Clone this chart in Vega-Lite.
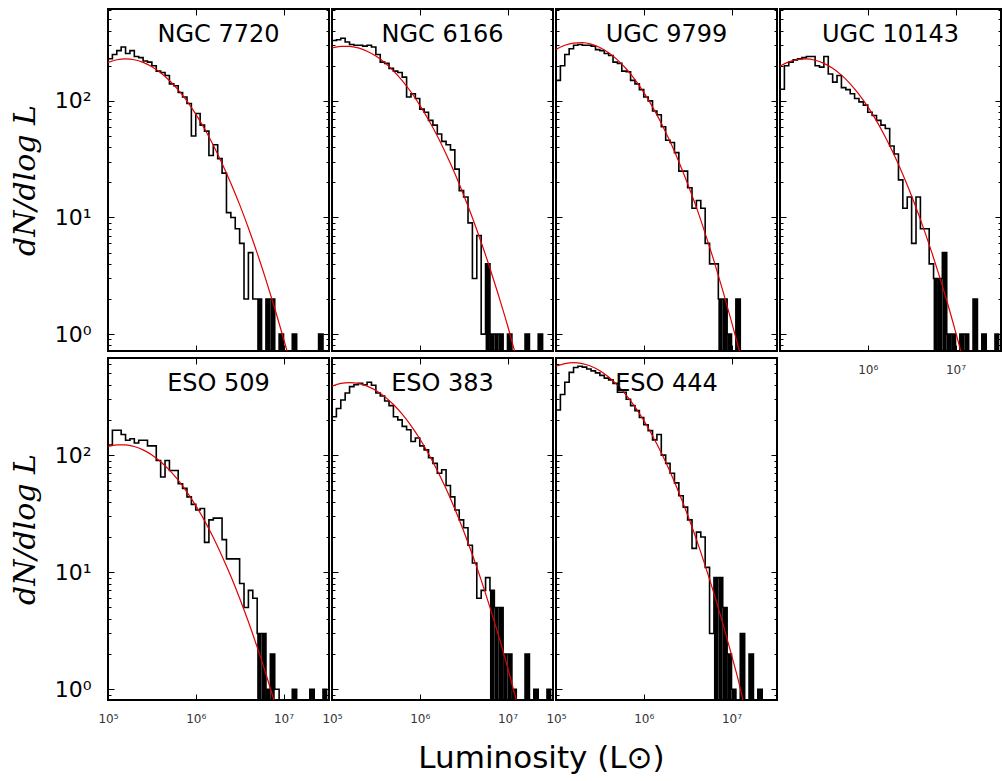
{
"$schema":"https://vega.github.io/schema/vega-lite/v6.json",
"background":"white",
"padding":{"left":9,"top":7,"right":0,"bottom":0},
"bounds":"flush",
"columns":4,
"spacing":{"row":7,"column":3},
"config":{"view":{"stroke":"black","strokeWidth":2},"axis":{"tickColor":"black","tickWidth":1,"domain":false,"grid":false},"font":"DejaVu Sans"},
"concat":[
{"width":221,"height":342,
"title":{"text":"NGC 7720","offset":-57,"baseline":"alphabetic","fontSize":24,"fontWeight":"normal","font":"DejaVu Sans","anchor":"middle","color":"black"},
"layer":[
{"data":{"values":[{"L":100000,"n":230},{"L":112202,"n":250},{"L":125893,"n":270},{"L":141254,"n":290},{"L":158489,"n":255},{"L":177828,"n":270},{"L":199526,"n":240},{"L":223872,"n":235},{"L":251189,"n":220},{"L":281838,"n":215},{"L":316228,"n":200},{"L":354813,"n":180},{"L":398107,"n":175},{"L":446684,"n":165},{"L":501187,"n":140},{"L":562341,"n":135},{"L":630957,"n":118},{"L":707946,"n":108},{"L":794328,"n":95},{"L":891251,"n":50},{"L":1000000,"n":78},{"L":1122018,"n":62},{"L":1258925,"n":55},{"L":1412538,"n":34},{"L":1584893,"n":42},{"L":1778279,"n":32},{"L":1995262,"n":24},{"L":2238721,"n":11},{"L":2511886,"n":10},{"L":2818383,"n":8},{"L":3162278,"n":6},{"L":3548134,"n":2},{"L":3981072,"n":5},{"L":4466836,"n":2},{"L":5011872,"n":2},{"L":5623413,"n":0},{"L":6309573,"n":2},{"L":7079458,"n":2},{"L":7943282,"n":0},{"L":8912509,"n":1},{"L":10000000,"n":0},{"L":11220185,"n":0},{"L":12589254,"n":1},{"L":14125375,"n":0},{"L":15848932,"n":0},{"L":17782794,"n":0},{"L":19952623,"n":0},{"L":22387211,"n":0},{"L":25118864,"n":1},{"L":28183829,"n":0},{"L":31622777,"n":0}]},
"mark":{"type":"line","interpolate":"step-after","color":"black","strokeWidth":1.6,"clip":true,"invalid":"show"},
"encoding":{"x":{"field":"L","type":"quantitative","scale":{"type":"log","domain":[100000,33000000],"nice":false},"axis":{"orient":"bottom","values":[100000,1000000,10000000],"tickSize":-6,"labels":false,"title":null}},
"y":{"field":"n","type":"quantitative","scale":{"type":"log","domain":[0.716,614],"nice":false,"clamp":true},"axis":{"orient":"left","values":[0.8,0.9,1,2,3,4,5,6,7,8,9,10,20,30,40,50,60,70,80,90,100,200,300,400,500,600],"tickSize":{"condition":{"test":"datum.value==1||datum.value==10||datum.value==100","value":-6},"value":-3},"labels":true,"labelExpr":"datum.value==1?'10⁰':datum.value==10?'10¹':datum.value==100?'10²':''","labelFontSize":{"condition":{"test":"datum.value==1||datum.value==10||datum.value==100","value":22},"value":1},"labelPadding":23,"labelOverlap":false,"labelFlush":false,"labelColor":"black","title":"dN/dlog L","titleFont":"DejaVu Serif","titleFontStyle":"italic","titleFontWeight":"normal","titleFontSize":30,"titlePadding":14,"titleColor":"black"}}}},
{"data":{"values":[{"L":5011872,"L2":5623413,"n":2},{"L":6309573,"L2":7079458,"n":2},{"L":7079458,"L2":7943282,"n":2},{"L":8912509,"L2":10000000,"n":1},{"L":12589254,"L2":14125375,"n":1},{"L":25118864,"L2":28183829,"n":1}]},
"mark":{"type":"rect","color":"black","clip":true},
"encoding":{"x":{"field":"L","type":"quantitative","axis":null},"x2":{"field":"L2"},"y":{"field":"n","type":"quantitative","axis":null},"y2":{"datum":0.5}}},
{"data":{"values":[{"L":100000,"n":213.8},{"L":125893,"n":225.3},{"L":158489,"n":229.1},{"L":199526,"n":225.3},{"L":251189,"n":214},{"L":316228,"n":196.6},{"L":398107,"n":174.4},{"L":501187,"n":149.6},{"L":630957,"n":124.1},{"L":794328,"n":99.4},{"L":1000000,"n":77},{"L":1258925,"n":57.6},{"L":1584893,"n":41.7},{"L":1995262,"n":29.1},{"L":2511886,"n":19.7},{"L":3162278,"n":12.9},{"L":3981072,"n":8.12},{"L":5011872,"n":4.95},{"L":6309573,"n":2.92},{"L":7943282,"n":1.665},{"L":10000000,"n":0.917},{"L":10964782,"n":0.716}]},
"mark":{"type":"line","color":"#e00000","strokeWidth":1.2,"interpolate":"monotone","clip":true},
"encoding":{"x":{"field":"L","type":"quantitative","axis":{"orient":"top","values":[100000,1000000,10000000],"tickSize":-6,"labels":false,"title":null}},
"y":{"field":"n","type":"quantitative","axis":{"orient":"right","values":[0.8,0.9,1,2,3,4,5,6,7,8,9,10,20,30,40,50,60,70,80,90,100,200,300,400,500,600],"tickSize":{"condition":{"test":"datum.value==1||datum.value==10||datum.value==100","value":-6},"value":-3},"labels":false,"title":null}}}}
],
"resolve":{"axis":{"x":"independent","y":"independent"}}},

{"width":221,"height":342,
"title":{"text":"NGC 6166","offset":-57,"baseline":"alphabetic","fontSize":24,"fontWeight":"normal","font":"DejaVu Sans","anchor":"middle","color":"black"},
"layer":[
{"data":{"values":[{"L":100000,"n":330},{"L":112202,"n":335},{"L":125893,"n":345},{"L":141254,"n":320},{"L":158489,"n":305},{"L":177828,"n":300},{"L":199526,"n":300},{"L":223872,"n":295},{"L":251189,"n":300},{"L":281838,"n":290},{"L":316228,"n":250},{"L":354813,"n":215},{"L":398107,"n":210},{"L":446684,"n":190},{"L":501187,"n":180},{"L":562341,"n":175},{"L":630957,"n":160},{"L":707946,"n":108},{"L":794328,"n":115},{"L":891251,"n":105},{"L":1000000,"n":85},{"L":1122018,"n":80},{"L":1258925,"n":68},{"L":1412538,"n":62},{"L":1584893,"n":52},{"L":1778279,"n":45},{"L":1995262,"n":42},{"L":2238721,"n":38},{"L":2511886,"n":26},{"L":2818383,"n":17},{"L":3162278,"n":15},{"L":3548134,"n":9},{"L":3981072,"n":3},{"L":4466836,"n":7},{"L":5011872,"n":1},{"L":5623413,"n":4},{"L":6309573,"n":1},{"L":7079458,"n":1},{"L":7943282,"n":1},{"L":8912509,"n":0},{"L":10000000,"n":1},{"L":11220185,"n":0},{"L":12589254,"n":0},{"L":14125375,"n":0},{"L":15848932,"n":1},{"L":17782794,"n":0},{"L":19952623,"n":0},{"L":22387211,"n":1},{"L":25118864,"n":0},{"L":28183829,"n":0},{"L":31622777,"n":0}]},
"mark":{"type":"line","interpolate":"step-after","color":"black","strokeWidth":1.6,"clip":true,"invalid":"show"},
"encoding":{"x":{"field":"L","type":"quantitative","scale":{"type":"log","domain":[100000,33000000],"nice":false},"axis":{"orient":"bottom","values":[100000,1000000,10000000],"tickSize":-6,"labels":false,"title":null}},
"y":{"field":"n","type":"quantitative","scale":{"type":"log","domain":[0.716,614],"nice":false,"clamp":true},"axis":{"orient":"left","values":[0.8,0.9,1,2,3,4,5,6,7,8,9,10,20,30,40,50,60,70,80,90,100,200,300,400,500,600],"tickSize":{"condition":{"test":"datum.value==1||datum.value==10||datum.value==100","value":-6},"value":-3},"labels":false,"title":null}}}},
{"data":{"values":[{"L":5623413,"L2":6309573,"n":4},{"L":6309573,"L2":7079458,"n":1},{"L":7079458,"L2":7943282,"n":1},{"L":7943282,"L2":8912509,"n":1},{"L":10000000,"L2":11220185,"n":1},{"L":15848932,"L2":17782794,"n":1},{"L":22387211,"L2":25118864,"n":1}]},
"mark":{"type":"rect","color":"black","clip":true},
"encoding":{"x":{"field":"L","type":"quantitative","axis":null},"x2":{"field":"L2"},"y":{"field":"n","type":"quantitative","axis":null},"y2":{"datum":0.5}}},
{"data":{"values":[{"L":100000,"n":284.6},{"L":125893,"n":293.9},{"L":158489,"n":293.9},{"L":199526,"n":284.6},{"L":251189,"n":266.9},{"L":316228,"n":242.2},{"L":398107,"n":212.9},{"L":501187,"n":181.2},{"L":630957,"n":149.3},{"L":794328,"n":119.2},{"L":1000000,"n":92.1},{"L":1258925,"n":68.9},{"L":1584893,"n":49.9},{"L":1995262,"n":35},{"L":2511886,"n":23.8},{"L":3162278,"n":15.6},{"L":3981072,"n":9.96},{"L":5011872,"n":6.14},{"L":6309573,"n":3.67},{"L":7943282,"n":2.12},{"L":10000000,"n":1.19},{"L":12022644,"n":0.716}]},
"mark":{"type":"line","color":"#e00000","strokeWidth":1.2,"interpolate":"monotone","clip":true},
"encoding":{"x":{"field":"L","type":"quantitative","axis":{"orient":"top","values":[100000,1000000,10000000],"tickSize":-6,"labels":false,"title":null}},
"y":{"field":"n","type":"quantitative","axis":{"orient":"right","values":[0.8,0.9,1,2,3,4,5,6,7,8,9,10,20,30,40,50,60,70,80,90,100,200,300,400,500,600],"tickSize":{"condition":{"test":"datum.value==1||datum.value==10||datum.value==100","value":-6},"value":-3},"labels":false,"title":null}}}}
],
"resolve":{"axis":{"x":"independent","y":"independent"}}},

{"width":221,"height":342,
"title":{"text":"UGC 9799","offset":-57,"baseline":"alphabetic","fontSize":24,"fontWeight":"normal","font":"DejaVu Sans","anchor":"middle","color":"black"},
"layer":[
{"data":{"values":[{"L":100000,"n":150},{"L":112202,"n":200},{"L":125893,"n":250},{"L":141254,"n":280},{"L":158489,"n":300},{"L":177828,"n":305},{"L":199526,"n":300},{"L":223872,"n":300},{"L":251189,"n":295},{"L":281838,"n":275},{"L":316228,"n":270},{"L":354813,"n":255},{"L":398107,"n":245},{"L":446684,"n":215},{"L":501187,"n":210},{"L":562341,"n":180},{"L":630957,"n":178},{"L":707946,"n":150},{"L":794328,"n":140},{"L":891251,"n":125},{"L":1000000,"n":108},{"L":1122018,"n":100},{"L":1258925,"n":82},{"L":1412538,"n":76},{"L":1584893,"n":60},{"L":1778279,"n":46},{"L":1995262,"n":44},{"L":2238721,"n":36},{"L":2511886,"n":25},{"L":2818383,"n":25},{"L":3162278,"n":18},{"L":3548134,"n":12},{"L":3981072,"n":14},{"L":4466836,"n":12},{"L":5011872,"n":6},{"L":5623413,"n":4},{"L":6309573,"n":4},{"L":7079458,"n":2},{"L":7943282,"n":2},{"L":8912509,"n":1},{"L":10000000,"n":0},{"L":11220185,"n":2},{"L":12589254,"n":0},{"L":14125375,"n":0},{"L":15848932,"n":0},{"L":17782794,"n":0},{"L":19952623,"n":0},{"L":22387211,"n":0},{"L":25118864,"n":0},{"L":28183829,"n":0},{"L":31622777,"n":0}]},
"mark":{"type":"line","interpolate":"step-after","color":"black","strokeWidth":1.6,"clip":true,"invalid":"show"},
"encoding":{"x":{"field":"L","type":"quantitative","scale":{"type":"log","domain":[100000,33000000],"nice":false},"axis":{"orient":"bottom","values":[100000,1000000,10000000],"tickSize":-6,"labels":false,"title":null}},
"y":{"field":"n","type":"quantitative","scale":{"type":"log","domain":[0.716,614],"nice":false,"clamp":true},"axis":{"orient":"left","values":[0.8,0.9,1,2,3,4,5,6,7,8,9,10,20,30,40,50,60,70,80,90,100,200,300,400,500,600],"tickSize":{"condition":{"test":"datum.value==1||datum.value==10||datum.value==100","value":-6},"value":-3},"labels":false,"title":null}}}},
{"data":{"values":[{"L":7079458,"L2":7943282,"n":2},{"L":7943282,"L2":8912509,"n":2},{"L":8912509,"L2":10000000,"n":1},{"L":11220185,"L2":12589254,"n":2}]},
"mark":{"type":"rect","color":"black","clip":true},
"encoding":{"x":{"field":"L","type":"quantitative","axis":null},"x2":{"field":"L2"},"y":{"field":"n","type":"quantitative","axis":null},"y2":{"datum":0.5}}},
{"data":{"values":[{"L":100000,"n":276.6},{"L":125893,"n":299.9},{"L":158489,"n":313.3},{"L":199526,"n":315.7},{"L":251189,"n":306.6},{"L":316228,"n":286.9},{"L":398107,"n":258.8},{"L":501187,"n":224.9},{"L":630957,"n":188.6},{"L":794328,"n":152.2},{"L":1000000,"n":118.5},{"L":1258925,"n":88.9},{"L":1584893,"n":64.3},{"L":1995262,"n":44.8},{"L":2511886,"n":30.1},{"L":3162278,"n":19.5},{"L":3981072,"n":12.2},{"L":5011872,"n":7.31},{"L":6309573,"n":4.24},{"L":7943282,"n":2.37},{"L":10000000,"n":1.28},{"L":12302688,"n":0.716}]},
"mark":{"type":"line","color":"#e00000","strokeWidth":1.2,"interpolate":"monotone","clip":true},
"encoding":{"x":{"field":"L","type":"quantitative","axis":{"orient":"top","values":[100000,1000000,10000000],"tickSize":-6,"labels":false,"title":null}},
"y":{"field":"n","type":"quantitative","axis":{"orient":"right","values":[0.8,0.9,1,2,3,4,5,6,7,8,9,10,20,30,40,50,60,70,80,90,100,200,300,400,500,600],"tickSize":{"condition":{"test":"datum.value==1||datum.value==10||datum.value==100","value":-6},"value":-3},"labels":false,"title":null}}}}
],
"resolve":{"axis":{"x":"independent","y":"independent"}}},

{"width":221,"height":342,
"title":{"text":"UGC 10143","offset":-57,"baseline":"alphabetic","fontSize":24,"fontWeight":"normal","font":"DejaVu Sans","anchor":"middle","color":"black"},
"layer":[
{"data":{"values":[{"L":100000,"n":126},{"L":112202,"n":200},{"L":125893,"n":215},{"L":141254,"n":225},{"L":158489,"n":230},{"L":177828,"n":235},{"L":199526,"n":240},{"L":223872,"n":240},{"L":251189,"n":200},{"L":281838,"n":195},{"L":316228,"n":240},{"L":354813,"n":170},{"L":398107,"n":145},{"L":446684,"n":165},{"L":501187,"n":130},{"L":562341,"n":125},{"L":630957,"n":115},{"L":707946,"n":105},{"L":794328,"n":98},{"L":891251,"n":92},{"L":1000000,"n":80},{"L":1122018,"n":75},{"L":1258925,"n":68},{"L":1412538,"n":62},{"L":1584893,"n":58},{"L":1778279,"n":41},{"L":1995262,"n":35},{"L":2238721,"n":21},{"L":2511886,"n":12},{"L":2818383,"n":15},{"L":3162278,"n":6},{"L":3548134,"n":15},{"L":3981072,"n":8},{"L":4466836,"n":8},{"L":5011872,"n":4},{"L":5623413,"n":3},{"L":6309573,"n":3},{"L":7079458,"n":5},{"L":7943282,"n":1},{"L":8912509,"n":1},{"L":10000000,"n":0},{"L":11220185,"n":1},{"L":12589254,"n":1},{"L":14125375,"n":0},{"L":15848932,"n":2},{"L":17782794,"n":0},{"L":19952623,"n":1},{"L":22387211,"n":0},{"L":25118864,"n":0},{"L":28183829,"n":1},{"L":31622777,"n":1}]},
"mark":{"type":"line","interpolate":"step-after","color":"black","strokeWidth":1.6,"clip":true,"invalid":"show"},
"encoding":{"x":{"field":"L","type":"quantitative","scale":{"type":"log","domain":[100000,33000000],"nice":false},"axis":{"orient":"bottom","values":[100000,1000000,10000000],"tickSize":-6,"labels":true,"labelExpr":"datum.value==100000?'':datum.value==1000000?'10⁶':'10⁷'","labelFontSize":12,"labelColor":"#333","labelPadding":19,"labelOverlap":false,"labelFlush":false,"title":null}},
"y":{"field":"n","type":"quantitative","scale":{"type":"log","domain":[0.716,614],"nice":false,"clamp":true},"axis":{"orient":"left","values":[0.8,0.9,1,2,3,4,5,6,7,8,9,10,20,30,40,50,60,70,80,90,100,200,300,400,500,600],"tickSize":{"condition":{"test":"datum.value==1||datum.value==10||datum.value==100","value":-6},"value":-3},"labels":false,"title":null}}}},
{"data":{"values":[{"L":5623413,"L2":6309573,"n":3},{"L":6309573,"L2":7079458,"n":3},{"L":7079458,"L2":7943282,"n":5},{"L":7943282,"L2":8912509,"n":1},{"L":8912509,"L2":10000000,"n":1},{"L":11220185,"L2":12589254,"n":1},{"L":12589254,"L2":14125375,"n":1},{"L":15848932,"L2":17782794,"n":2},{"L":19952623,"L2":22387211,"n":1},{"L":28183829,"L2":31622777,"n":1}]},
"mark":{"type":"rect","color":"black","clip":true},
"encoding":{"x":{"field":"L","type":"quantitative","axis":null},"x2":{"field":"L2"},"y":{"field":"n","type":"quantitative","axis":null},"y2":{"datum":0.5}}},
{"data":{"values":[{"L":100000,"n":198.7},{"L":125893,"n":216},{"L":158489,"n":226.4},{"L":199526,"n":228.9},{"L":251189,"n":223.1},{"L":316228,"n":209.8},{"L":398107,"n":190.2},{"L":501187,"n":166.2},{"L":630957,"n":140.1},{"L":794328,"n":113.8},{"L":1000000,"n":89.2},{"L":1258925,"n":67.4},{"L":1584893,"n":49.1},{"L":1995262,"n":34.5},{"L":2511886,"n":23.4},{"L":3162278,"n":15.3},{"L":3981072,"n":9.63},{"L":5011872,"n":5.85},{"L":6309573,"n":3.43},{"L":7943282,"n":1.94},{"L":10000000,"n":1.05},{"L":11481536,"n":0.716}]},
"mark":{"type":"line","color":"#e00000","strokeWidth":1.2,"interpolate":"monotone","clip":true},
"encoding":{"x":{"field":"L","type":"quantitative","axis":{"orient":"top","values":[100000,1000000,10000000],"tickSize":-6,"labels":false,"title":null}},
"y":{"field":"n","type":"quantitative","axis":{"orient":"right","values":[0.8,0.9,1,2,3,4,5,6,7,8,9,10,20,30,40,50,60,70,80,90,100,200,300,400,500,600],"tickSize":{"condition":{"test":"datum.value==1||datum.value==10||datum.value==100","value":-6},"value":-3},"labels":false,"title":null}}}}
],
"resolve":{"axis":{"x":"independent","y":"independent"}}},

{"width":221,"height":342,
"title":{"text":"ESO 509","offset":-57,"baseline":"alphabetic","fontSize":24,"fontWeight":"normal","font":"DejaVu Sans","anchor":"middle","color":"black"},
"layer":[
{"data":{"values":[{"L":100000,"n":122},{"L":112202,"n":163},{"L":125893,"n":163},{"L":141254,"n":150},{"L":158489,"n":134},{"L":177828,"n":138},{"L":199526,"n":127},{"L":223872,"n":134},{"L":251189,"n":134},{"L":281838,"n":120},{"L":316228,"n":120},{"L":354813,"n":90},{"L":398107,"n":65},{"L":446684,"n":90},{"L":501187,"n":74},{"L":562341,"n":74},{"L":630957,"n":57},{"L":707946,"n":52},{"L":794328,"n":44},{"L":891251,"n":38},{"L":1000000,"n":34},{"L":1122018,"n":35},{"L":1258925,"n":18},{"L":1412538,"n":28},{"L":1584893,"n":29},{"L":1778279,"n":29},{"L":1995262,"n":19},{"L":2238721,"n":13},{"L":2511886,"n":13},{"L":2818383,"n":13},{"L":3162278,"n":8},{"L":3548134,"n":5},{"L":3981072,"n":7},{"L":4466836,"n":6},{"L":5011872,"n":3},{"L":5623413,"n":3},{"L":6309573,"n":1},{"L":7079458,"n":2},{"L":7943282,"n":1},{"L":8912509,"n":0},{"L":10000000,"n":0},{"L":11220185,"n":0},{"L":12589254,"n":1},{"L":14125375,"n":0},{"L":15848932,"n":0},{"L":17782794,"n":0},{"L":19952623,"n":1},{"L":22387211,"n":0},{"L":25118864,"n":0},{"L":28183829,"n":1},{"L":31622777,"n":1}]},
"mark":{"type":"line","interpolate":"step-after","color":"black","strokeWidth":1.6,"clip":true,"invalid":"show"},
"encoding":{"x":{"field":"L","type":"quantitative","scale":{"type":"log","domain":[100000,33000000],"nice":false},"axis":{"orient":"bottom","values":[100000,1000000,10000000],"tickSize":-6,"labels":true,"labelExpr":"datum.value==100000?'10⁵':datum.value==1000000?'10⁶':'10⁷'","labelFontSize":12,"labelColor":"#333","labelPadding":19,"labelOverlap":false,"labelFlush":false,"title":null}},
"y":{"field":"n","type":"quantitative","scale":{"type":"log","domain":[0.81,676],"nice":false,"clamp":true},"axis":{"orient":"left","values":[0.9,1,2,3,4,5,6,7,8,9,10,20,30,40,50,60,70,80,90,100,200,300,400,500,600],"tickSize":{"condition":{"test":"datum.value==1||datum.value==10||datum.value==100","value":-6},"value":-3},"labels":true,"labelExpr":"datum.value==1?'10⁰':datum.value==10?'10¹':datum.value==100?'10²':''","labelFontSize":{"condition":{"test":"datum.value==1||datum.value==10||datum.value==100","value":22},"value":1},"labelPadding":23,"labelOverlap":false,"labelFlush":false,"labelColor":"black","title":"dN/dlog L","titleFont":"DejaVu Serif","titleFontStyle":"italic","titleFontWeight":"normal","titleFontSize":30,"titlePadding":14,"titleColor":"black"}}}},
{"data":{"values":[{"L":5011872,"L2":5623413,"n":3},{"L":5623413,"L2":6309573,"n":3},{"L":6309573,"L2":7079458,"n":1},{"L":7079458,"L2":7943282,"n":2},{"L":12589254,"L2":14125375,"n":1},{"L":19952623,"L2":22387211,"n":1},{"L":28183829,"L2":31622777,"n":1}]},
"mark":{"type":"rect","color":"black","clip":true},
"encoding":{"x":{"field":"L","type":"quantitative","axis":null},"x2":{"field":"L2"},"y":{"field":"n","type":"quantitative","axis":null},"y2":{"datum":0.5}}},
{"data":{"values":[{"L":100000,"n":118.5},{"L":125893,"n":122.5},{"L":158489,"n":122.5},{"L":199526,"n":118.5},{"L":251189,"n":110.9},{"L":316228,"n":100.4},{"L":398107,"n":87.9},{"L":501187,"n":74.5},{"L":630957,"n":61.1},{"L":794328,"n":48.4},{"L":1000000,"n":37.1},{"L":1258925,"n":27.6},{"L":1584893,"n":19.8},{"L":1995262,"n":13.7},{"L":2511886,"n":9.23},{"L":3162278,"n":6},{"L":3981072,"n":3.77},{"L":5011872,"n":2.29},{"L":6309573,"n":1.35},{"L":7762471,"n":0.81}]},
"mark":{"type":"line","color":"#e00000","strokeWidth":1.2,"interpolate":"monotone","clip":true},
"encoding":{"x":{"field":"L","type":"quantitative","axis":{"orient":"top","values":[100000,1000000,10000000],"tickSize":-6,"labels":false,"title":null}},
"y":{"field":"n","type":"quantitative","axis":{"orient":"right","values":[0.9,1,2,3,4,5,6,7,8,9,10,20,30,40,50,60,70,80,90,100,200,300,400,500,600],"tickSize":{"condition":{"test":"datum.value==1||datum.value==10||datum.value==100","value":-6},"value":-3},"labels":false,"title":null}}}}
],
"resolve":{"axis":{"x":"independent","y":"independent"}}},

{"width":221,"height":342,
"title":{"text":"ESO 383","offset":-57,"baseline":"alphabetic","fontSize":24,"fontWeight":"normal","font":"DejaVu Sans","anchor":"middle","color":"black"},
"layer":[
{"data":{"values":[{"L":100000,"n":213},{"L":112202,"n":250},{"L":125893,"n":296},{"L":141254,"n":340},{"L":158489,"n":385},{"L":177828,"n":400},{"L":199526,"n":410},{"L":223872,"n":400},{"L":251189,"n":420},{"L":281838,"n":395},{"L":316228,"n":340},{"L":354813,"n":320},{"L":398107,"n":290},{"L":446684,"n":265},{"L":501187,"n":213},{"L":562341,"n":200},{"L":630957,"n":176},{"L":707946,"n":165},{"L":794328,"n":131},{"L":891251,"n":140},{"L":1000000,"n":120},{"L":1122018,"n":111},{"L":1258925,"n":95},{"L":1412538,"n":85},{"L":1584893,"n":70},{"L":1778279,"n":75},{"L":1995262,"n":55},{"L":2238721,"n":44},{"L":2511886,"n":34},{"L":2818383,"n":28},{"L":3162278,"n":24},{"L":3548134,"n":17},{"L":3981072,"n":12},{"L":4466836,"n":6},{"L":5011872,"n":7},{"L":5623413,"n":9},{"L":6309573,"n":7},{"L":7079458,"n":5},{"L":7943282,"n":5},{"L":8912509,"n":2},{"L":10000000,"n":2},{"L":11220185,"n":1},{"L":12589254,"n":0},{"L":14125375,"n":0},{"L":15848932,"n":2},{"L":17782794,"n":0},{"L":19952623,"n":1},{"L":22387211,"n":0},{"L":25118864,"n":0},{"L":28183829,"n":1},{"L":31622777,"n":1}]},
"mark":{"type":"line","interpolate":"step-after","color":"black","strokeWidth":1.6,"clip":true,"invalid":"show"},
"encoding":{"x":{"field":"L","type":"quantitative","scale":{"type":"log","domain":[100000,33000000],"nice":false},"axis":{"orient":"bottom","values":[100000,1000000,10000000],"tickSize":-6,"labels":true,"labelExpr":"datum.value==100000?'10⁵':datum.value==1000000?'10⁶':'10⁷'","labelFontSize":12,"labelColor":"#333","labelPadding":19,"labelOverlap":false,"labelFlush":false,"title":"Luminosity (L⊙)","titleX":209,"titleY":67,"titleAlign":"center","titleBaseline":"alphabetic","titleFont":"DejaVu Sans","titleFontSize":31,"titleFontWeight":"normal","titleColor":"black"}},
"y":{"field":"n","type":"quantitative","scale":{"type":"log","domain":[0.81,676],"nice":false,"clamp":true},"axis":{"orient":"left","values":[0.9,1,2,3,4,5,6,7,8,9,10,20,30,40,50,60,70,80,90,100,200,300,400,500,600],"tickSize":{"condition":{"test":"datum.value==1||datum.value==10||datum.value==100","value":-6},"value":-3},"labels":false,"title":null}}}},
{"data":{"values":[{"L":6309573,"L2":7079458,"n":7},{"L":7079458,"L2":7943282,"n":5},{"L":7943282,"L2":8912509,"n":5},{"L":8912509,"L2":10000000,"n":2},{"L":10000000,"L2":11220185,"n":2},{"L":11220185,"L2":12589254,"n":1},{"L":15848932,"L2":17782794,"n":2},{"L":19952623,"L2":22387211,"n":1},{"L":28183829,"L2":31622777,"n":1}]},
"mark":{"type":"rect","color":"black","clip":true},
"encoding":{"x":{"field":"L","type":"quantitative","axis":null},"x2":{"field":"L2"},"y":{"field":"n","type":"quantitative","axis":null},"y2":{"datum":0.5}}},
{"data":{"values":[{"L":100000,"n":389},{"L":125893,"n":409.8},{"L":158489,"n":416.9},{"L":199526,"n":409.8},{"L":251189,"n":389},{"L":316228,"n":356.8},{"L":398107,"n":316.2},{"L":501187,"n":270.7},{"L":630957,"n":223.9},{"L":794328,"n":178.9},{"L":1000000,"n":138},{"L":1258925,"n":102.9},{"L":1584893,"n":74.1},{"L":1995262,"n":51.6},{"L":2511886,"n":34.7},{"L":3162278,"n":22.5},{"L":3981072,"n":14.1},{"L":5011872,"n":8.56},{"L":6309573,"n":5.01},{"L":7943282,"n":2.84},{"L":10000000,"n":1.55},{"L":12589254,"n":0.81}]},
"mark":{"type":"line","color":"#e00000","strokeWidth":1.2,"interpolate":"monotone","clip":true},
"encoding":{"x":{"field":"L","type":"quantitative","axis":{"orient":"top","values":[100000,1000000,10000000],"tickSize":-6,"labels":false,"title":null}},
"y":{"field":"n","type":"quantitative","axis":{"orient":"right","values":[0.9,1,2,3,4,5,6,7,8,9,10,20,30,40,50,60,70,80,90,100,200,300,400,500,600],"tickSize":{"condition":{"test":"datum.value==1||datum.value==10||datum.value==100","value":-6},"value":-3},"labels":false,"title":null}}}}
],
"resolve":{"axis":{"x":"independent","y":"independent"}}},

{"width":221,"height":342,
"title":{"text":"ESO 444","offset":-57,"baseline":"alphabetic","fontSize":24,"fontWeight":"normal","font":"DejaVu Sans","anchor":"middle","color":"black"},
"layer":[
{"data":{"values":[{"L":100000,"n":243},{"L":112202,"n":330},{"L":125893,"n":420},{"L":141254,"n":510},{"L":158489,"n":560},{"L":177828,"n":575},{"L":199526,"n":565},{"L":223872,"n":545},{"L":251189,"n":525},{"L":281838,"n":505},{"L":316228,"n":480},{"L":354813,"n":455},{"L":398107,"n":440},{"L":446684,"n":410},{"L":501187,"n":345},{"L":562341,"n":345},{"L":630957,"n":300},{"L":707946,"n":265},{"L":794328,"n":240},{"L":891251,"n":210},{"L":1000000,"n":182},{"L":1122018,"n":162},{"L":1258925,"n":135},{"L":1412538,"n":150},{"L":1584893,"n":100},{"L":1778279,"n":85},{"L":1995262,"n":70},{"L":2238721,"n":58},{"L":2511886,"n":45},{"L":2818383,"n":36},{"L":3162278,"n":28},{"L":3548134,"n":16},{"L":3981072,"n":22},{"L":4466836,"n":20},{"L":5011872,"n":11},{"L":5623413,"n":3},{"L":6309573,"n":9},{"L":7079458,"n":9},{"L":7943282,"n":5},{"L":8912509,"n":2},{"L":10000000,"n":1},{"L":11220185,"n":0},{"L":12589254,"n":3},{"L":14125375,"n":0},{"L":15848932,"n":2},{"L":17782794,"n":0},{"L":19952623,"n":1},{"L":22387211,"n":0},{"L":25118864,"n":0},{"L":28183829,"n":0},{"L":31622777,"n":0}]},
"mark":{"type":"line","interpolate":"step-after","color":"black","strokeWidth":1.6,"clip":true,"invalid":"show"},
"encoding":{"x":{"field":"L","type":"quantitative","scale":{"type":"log","domain":[100000,33000000],"nice":false},"axis":{"orient":"bottom","values":[100000,1000000,10000000],"tickSize":-6,"labels":true,"labelExpr":"datum.value==100000?'10⁵':datum.value==1000000?'10⁶':'10⁷'","labelFontSize":12,"labelColor":"#333","labelPadding":19,"labelOverlap":false,"labelFlush":false,"title":null}},
"y":{"field":"n","type":"quantitative","scale":{"type":"log","domain":[0.81,676],"nice":false,"clamp":true},"axis":{"orient":"left","values":[0.9,1,2,3,4,5,6,7,8,9,10,20,30,40,50,60,70,80,90,100,200,300,400,500,600],"tickSize":{"condition":{"test":"datum.value==1||datum.value==10||datum.value==100","value":-6},"value":-3},"labels":false,"title":null}}}},
{"data":{"values":[{"L":6309573,"L2":7079458,"n":9},{"L":7079458,"L2":7943282,"n":9},{"L":7943282,"L2":8912509,"n":5},{"L":8912509,"L2":10000000,"n":2},{"L":10000000,"L2":11220185,"n":1},{"L":12589254,"L2":14125375,"n":3},{"L":15848932,"L2":17782794,"n":2},{"L":19952623,"L2":22387211,"n":1}]},
"mark":{"type":"rect","color":"black","clip":true},
"encoding":{"x":{"field":"L","type":"quantitative","axis":null},"x2":{"field":"L2"},"y":{"field":"n","type":"quantitative","axis":null},"y2":{"datum":0.5}}},
{"data":{"values":[{"L":100000,"n":574.3},{"L":125893,"n":605.7},{"L":158489,"n":616.6},{"L":199526,"n":605.7},{"L":251189,"n":574.3},{"L":316228,"n":525.6},{"L":398107,"n":464.4},{"L":501187,"n":395.9},{"L":630957,"n":325.7},{"L":794328,"n":258.6},{"L":1000000,"n":198.3},{"L":1258925,"n":146.7},{"L":1584893,"n":104.7},{"L":1995262,"n":72.2},{"L":2511886,"n":48},{"L":3162278,"n":30.8},{"L":3981072,"n":19.1},{"L":5011872,"n":11.4},{"L":6309573,"n":6.59},{"L":7943282,"n":3.67},{"L":10000000,"n":1.97},{"L":12589254,"n":1.02},{"L":13489629,"n":0.81}]},
"mark":{"type":"line","color":"#e00000","strokeWidth":1.2,"interpolate":"monotone","clip":true},
"encoding":{"x":{"field":"L","type":"quantitative","axis":{"orient":"top","values":[100000,1000000,10000000],"tickSize":-6,"labels":false,"title":null}},
"y":{"field":"n","type":"quantitative","axis":{"orient":"right","values":[0.9,1,2,3,4,5,6,7,8,9,10,20,30,40,50,60,70,80,90,100,200,300,400,500,600],"tickSize":{"condition":{"test":"datum.value==1||datum.value==10||datum.value==100","value":-6},"value":-3},"labels":false,"title":null}}}}
],
"resolve":{"axis":{"x":"independent","y":"independent"}}}
]
}
